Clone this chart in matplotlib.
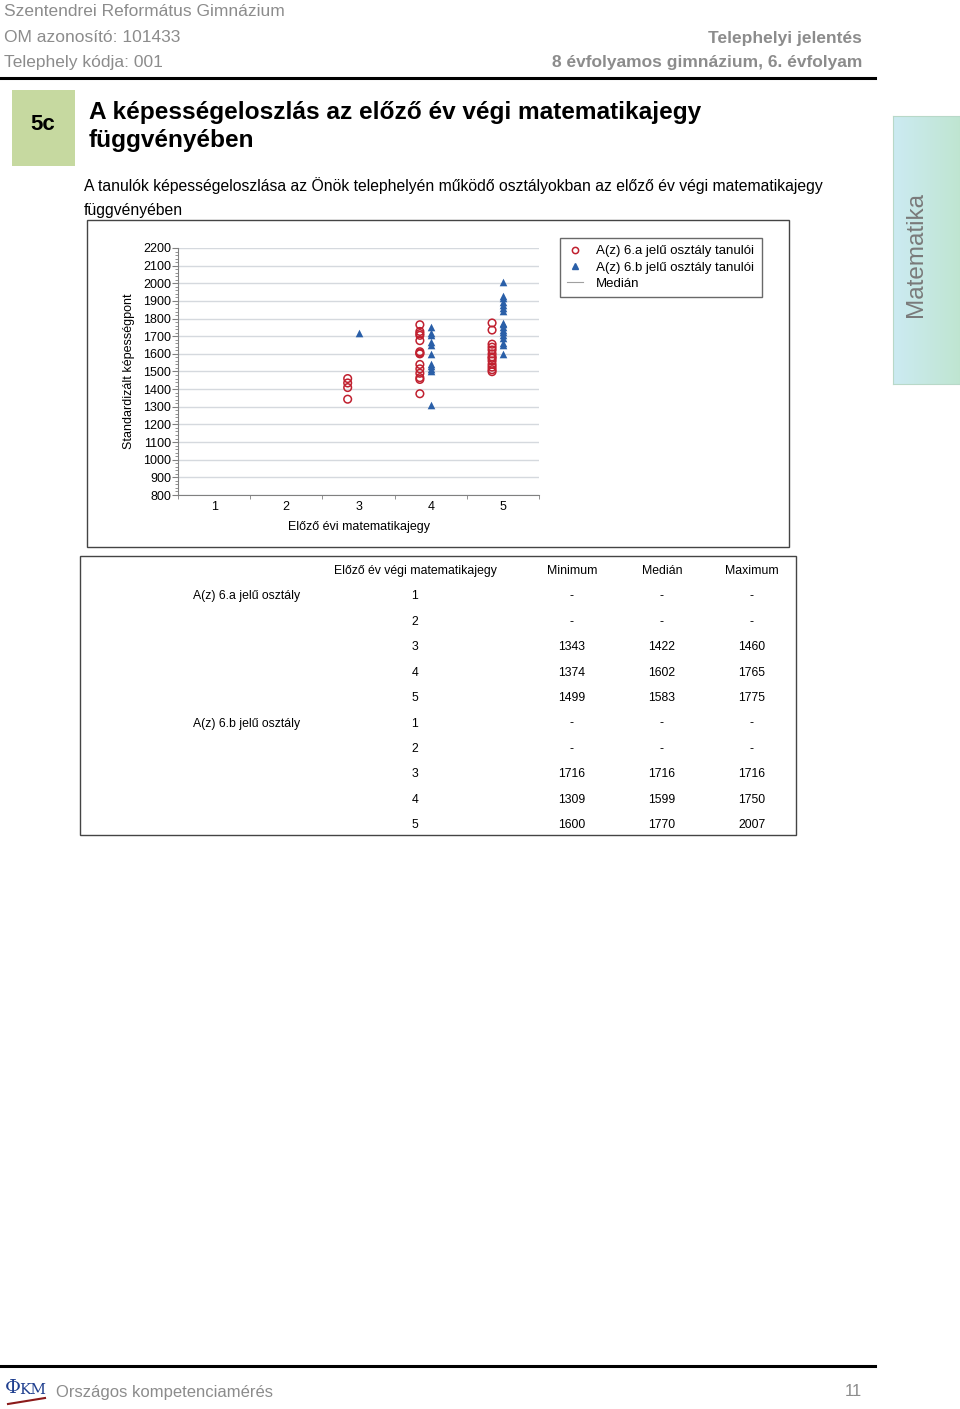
import numpy as np
import matplotlib
matplotlib.use("Agg")
import matplotlib.pyplot as plt
from matplotlib.lines import Line2D
from matplotlib.patches import Rectangle
from matplotlib.ticker import AutoMinorLocator

plt.rcParams['font.family'] = ['Liberation Sans', 'DejaVu Sans']

# ---------------- data ----------------
grades = [1, 2, 3, 4, 5]
# class 6.a scores (circles) per previous-year grade
a_g3 = [1343, 1409, 1435, 1460]
a_g4 = [1374, 1455, 1465, 1490, 1515, 1540, 1600, 1604, 1612, 1675, 1705, 1715, 1727, 1765]
a_g5 = [1499, 1510, 1525, 1540, 1560, 1575, 1583, 1600, 1622, 1638, 1655, 1735, 1775]
# class 6.b scores (triangles)
b_g3 = [1716]
b_g4 = [1309, 1500, 1515, 1530, 1545, 1599, 1650, 1665, 1705, 1720, 1750]
b_g5 = [1600, 1648, 1660, 1690, 1708, 1722, 1738, 1755, 1770, 1775, 1845, 1862, 1878, 1895, 1915, 1930, 2007]

class_names = ["A(z) 6.a jelű osztály", "A(z) 6.b jelű osztály"]
tbl_min_a = ["-", "-", "1343", "1374", "1499"]
tbl_med_a = ["-", "-", "1422", "1602", "1583"]
tbl_max_a = ["-", "-", "1460", "1765", "1775"]
tbl_min_b = ["-", "-", "1716", "1309", "1600"]
tbl_med_b = ["-", "-", "1716", "1599", "1770"]
tbl_max_b = ["-", "-", "1716", "1750", "2007"]

yticks = [800, 900, 1000, 1100, 1200, 1300, 1400, 1500, 1600, 1700, 1800, 1900, 2000, 2100, 2200]

W, H = 960, 1409
fig = plt.figure(figsize=(W / 100, H / 100), dpi=100)


def fx(x):
    return x / W


def fy(y):
    return 1 - y / H


def txt(x, y, s, **kw):
    fig.text(fx(x), fy(y), s, **kw)


grey = "#8c8c8c"
# ---------------- header ----------------
txt(4, 11, "Szentendrei Református Gimnázium", fontsize=12.5, color=grey, va="center")
txt(4, 37, "OM azonosító: 101433", fontsize=12.5, color=grey, va="center")
txt(4, 63, "Telephely kódja: 001", fontsize=12.5, color=grey, va="center")
txt(862, 38, "Telephelyi jelentés", fontsize=12.5, color=grey, va="center", ha="right", fontweight="bold")
txt(862, 63, "8 évfolyamos gimnázium, 6. évfolyam", fontsize=12.5, color=grey, va="center", ha="right", fontweight="bold")
fig.add_artist(Line2D([0, fx(875)], [fy(78), fy(78)], color="black", lw=2.2, transform=fig.transFigure))

# section box
fig.add_artist(Rectangle((fx(12), fy(166)), fx(75) - fx(12), fy(90) - fy(166), facecolor="#c6d9a0",
                         edgecolor="none", transform=fig.transFigure))
txt(43, 124, "5c", fontsize=16, fontweight="bold", ha="center", va="center")
txt(89, 113, "A képességeloszlás az előző év végi matematikajegy", fontsize=17.6, fontweight="bold", va="center")
txt(89, 140, "függvényében", fontsize=17.6, fontweight="bold", va="center")
txt(84, 186, "A tanulók képességeloszlása az Önök telephelyén működő osztályokban az előző év végi matematikajegy",
    fontsize=11.3, va="center")
txt(84, 210, "függvényében", fontsize=11.3, va="center")

# side tab with gradient
tab = fig.add_axes([fx(893), fy(384), fx(960) - fx(893), fy(116) - fy(384)])
grad = np.linspace(0, 1, 100)
c1 = np.array([0.80, 0.92, 0.95])
c2 = np.array([0.75, 0.90, 0.82])
img = np.array([c1 * (1 - g) + c2 * g for g in grad])[None, :, :]
tab.imshow(img, aspect="auto", extent=[0, 1, 0, 1])
tab.set_xticks([]); tab.set_yticks([])
for s in tab.spines.values():
    s.set_color("#b8d8c8")
tab.text(0.34, 0.485, "Matematika", rotation=90, fontsize=17.5, color="#7a7a7a", ha="center", va="center",
         transform=tab.transAxes)

# ---------------- chart ----------------
fig.add_artist(Rectangle((fx(87), fy(547)), fx(789) - fx(87), fy(220) - fy(547), facecolor="none",
                         edgecolor="#444444", lw=1.0, transform=fig.transFigure))
ax = fig.add_axes([fx(178), fy(495), fx(539) - fx(178), fy(248) - fy(495)])
red = "#c0202f"
blue = "#2a5fa8"
off = 0.15
for g, vals in zip([3, 4, 5], [a_g3, a_g4, a_g5]):
    ax.scatter(np.full(len(vals), g - off), vals, marker="o", s=30, facecolors="none", edgecolors=red,
               linewidths=1.1, zorder=3)
for g, vals in zip([3, 4, 5], [b_g3, b_g4, b_g5]):
    ax.scatter(np.full(len(vals), g), vals, marker="^", s=30, color=blue, linewidths=0, zorder=3)

ax.set_xlim(0.5, 5.5)
ax.set_ylim(800, 2200)
ax.set_yticks(yticks)
ax.set_yticklabels([str(v) for v in yticks], fontsize=9)
ax.yaxis.set_minor_locator(AutoMinorLocator(5))
ax.set_xticks(grades)
ax.set_xticklabels([str(g) for g in grades], fontsize=9)
ax.set_xticks([0.5, 1.5, 2.5, 3.5, 4.5, 5.5], minor=True)
ax.tick_params(axis="x", which="major", length=0, pad=4)
ax.tick_params(axis="x", which="minor", length=3, color="#808080")
ax.tick_params(axis="y", which="major", length=4, color="#808080", pad=1)
ax.tick_params(axis="y", which="minor", length=2, color="#808080")
ax.grid(axis="y", color="#d5d9de", lw=1.0)
ax.set_axisbelow(True)
for s in ["top", "right"]:
    ax.spines[s].set_visible(False)
for s in ["left", "bottom"]:
    ax.spines[s].set_color("#808080")
ax.set_ylabel("Standardizált képességpont", fontsize=9, labelpad=6)
ax.set_xlabel("Előző évi matematikajegy", fontsize=9, labelpad=6)

handles = [Line2D([], [], marker="o", ls="none", mfc="none", mec=red, ms=4.5, mew=1.1),
           Line2D([], [], marker="^", ls="none", color=blue, ms=5),
           Line2D([], [], color="#a0a0a0", lw=0.8)]
leg = fig.legend(handles, ["A(z) 6.a jelű osztály tanulói", "A(z) 6.b jelű osztály tanulói", "Medián"],
                 loc="upper left", bbox_to_anchor=(fx(560), fy(238)), fontsize=9.5, frameon=True,
                 fancybox=False, handlelength=1.2, handletextpad=1.0, borderpad=0.55, labelspacing=0.3,
                 borderaxespad=0)
leg.get_frame().set_edgecolor("#444444")
leg.get_frame().set_linewidth(1.0)

# ---------------- table ----------------
fig.add_artist(Rectangle((fx(80), fy(835)), fx(796) - fx(80), fy(556) - fy(835), facecolor="none",
                         edgecolor="#444444", lw=1.0, transform=fig.transFigure))
col_x = [415, 572, 662, 752]
hdr = ["Előző év végi matematikajegy", "Minimum", "Medián", "Maximum"]
fs = 8.8
for x, h in zip(col_x, hdr):
    txt(x, 571, h, fontsize=fs, ha="center", va="center")
row_y0, dy = 596.5, 25.4
tables = [(tbl_min_a, tbl_med_a, tbl_max_a), (tbl_min_b, tbl_med_b, tbl_max_b)]
r = 0
for ci, (mn, md, mx) in enumerate(tables):
    for i, g in enumerate(grades):
        y = row_y0 + r * dy
        if i == 0:
            txt(193, y, class_names[ci], fontsize=fs, va="center")
        txt(col_x[0], y, str(g), fontsize=fs, ha="center", va="center")
        txt(col_x[1], y, mn[i], fontsize=fs, ha="center", va="center")
        txt(col_x[2], y, md[i], fontsize=fs, ha="center", va="center")
        txt(col_x[3], y, mx[i], fontsize=fs, ha="center", va="center")
        r += 1

# ---------------- footer ----------------
fig.add_artist(Line2D([0, fx(875)], [fy(1366), fy(1366)], color="black", lw=2.2, transform=fig.transFigure))
txt(5, 1388, "Φ", fontsize=14, color="#1f3f8f", va="center", fontfamily="DejaVu Serif")
txt(19, 1390, "KM", fontsize=11, color="#1f3f8f", va="center", fontfamily="DejaVu Serif")
fig.add_artist(Line2D([fx(8), fx(45)], [fy(1404), fy(1398)], color="#8b1a1a", lw=1.5, transform=fig.transFigure))
txt(56, 1392, "Országos kompetenciamérés", fontsize=12, color=grey, va="center")
txt(862, 1392, "11", fontsize=12, color=grey, va="center", ha="right")

fig.savefig("out.png", dpi=100)
